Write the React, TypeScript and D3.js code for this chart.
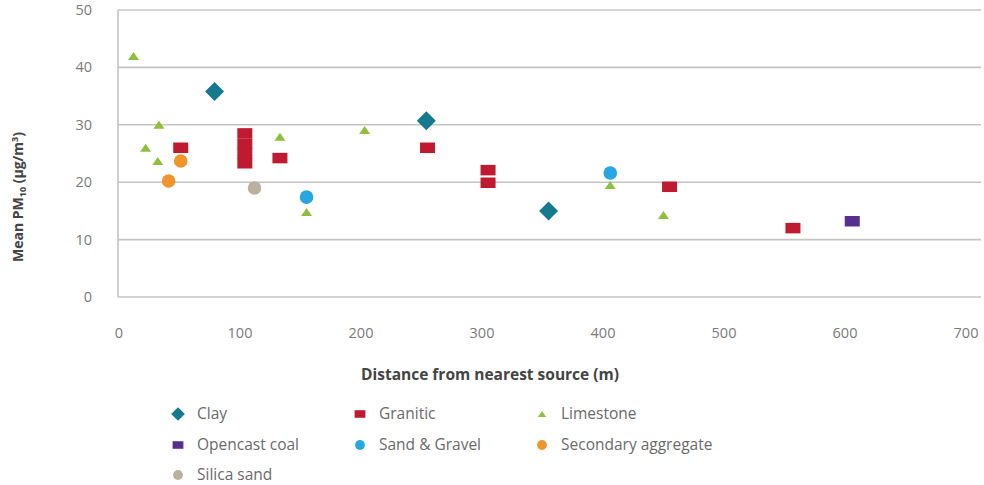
import React from "react";
import * as d3 from "d3";

const xTicks = [0, 100, 200, 300, 400, 500, 600, 700];
const yTicks = [0, 10, 20, 30, 40, 50];

const clayX = [79, 254, 355];
const clayY = [35.8, 30.7, 15];
const graniticX = [51, 104, 104, 104, 104, 133, 255, 305, 305, 455, 557];
const graniticY = [26, 23.3, 25, 26.7, 28.5, 24.2, 26, 22.1, 19.9, 19.2, 12];
const limestoneX = [12, 22, 32, 33, 133, 155, 203, 406, 450];
const limestoneY = [42, 26, 23.7, 30, 27.9, 14.8, 29.1, 19.5, 14.3];
const coalX = [606];
const coalY = [13.2];
const sandX = [155, 406];
const sandY = [17.4, 21.6];
const secondaryX = [41, 51];
const secondaryY = [20.2, 23.7];
const silicaX = [112];
const silicaY = [19];

type Shape = "diamond" | "rect" | "triangle" | "circle";
const seriesNames = ["Clay", "Granitic", "Limestone", "Opencast coal", "Sand & Gravel", "Secondary aggregate", "Silica sand"];
const seriesColors = ["#17798e", "#c01a30", "#8fbf3c", "#56308c", "#27a6e1", "#f0952b", "#b9b09e"];
const seriesShapes: Shape[] = ["diamond", "rect", "triangle", "rect", "circle", "circle", "circle"];
const seriesXs = [clayX, graniticX, limestoneX, coalX, sandX, secondaryX, silicaX];
const seriesYs = [clayY, graniticY, limestoneY, coalY, sandY, secondaryY, silicaY];

const FONT = "'Open Sans', 'Noto Sans', sans-serif";

function Marker({ shape, x, y, color, s }: { shape: Shape; x: number; y: number; color: string; s: number }) {
  if (shape === "diamond") {
    const r = 9.5 * s;
    return <path d={`M${x},${y - r}L${x + r},${y}L${x},${y + r}L${x - r},${y}Z`} fill={color} />;
  }
  if (shape === "rect") {
    const w = 15 * s, h = 10.5 * s;
    return <rect x={x - w / 2} y={y - h / 2} width={w} height={h} fill={color} />;
  }
  if (shape === "triangle") {
    const w = 11 * s, h = 8 * s;
    return <path d={`M${x},${y - h / 2}L${x + w / 2},${y + h / 2}L${x - w / 2},${y + h / 2}Z`} fill={color} />;
  }
  return <circle cx={x} cy={y} r={6.8 * s} fill={color} />;
}

export default function App() {
  const W = 984, H = 485;
  const x = d3.scaleLinear().domain([0, 700]).range([119, 966]);
  const y = d3.scaleLinear().domain([0, 50]).range([297, 10]);
  const gridRight = 981;

  const legendCols = [178, 360, 542];
  const legendRows = [414, 445, 475];

  return (
    <svg width={W} height={H} style={{ position: "absolute", left: 0, top: 0, background: "#fff" }}>
      {yTicks.map((t) => (
        <g key={t}>
          <line x1={118} x2={gridRight} y1={y(t)} y2={y(t)} stroke="#c4c4c4" strokeWidth={1.6} />
          <text x={92} y={y(t)} dy="0.35em" textAnchor="end" fontFamily={FONT} fontSize={14.5} fill="#7a7a7a">
            {t}
          </text>
        </g>
      ))}
      <line x1={118} x2={118} y1={y(50)} y2={y(0)} stroke="#c4c4c4" strokeWidth={1.6} />
      {xTicks.map((t) => (
        <text key={t} x={x(t)} y={333} dy="0.35em" textAnchor="middle" fontFamily={FONT} fontSize={14.5} fill="#7a7a7a">
          {t}
        </text>
      ))}
      <text x={490} y={375} dy="0.35em" textAnchor="middle" fontFamily={FONT} fontSize={15.5} fontWeight="bold" fill="#444">
        Distance from nearest source (m)
      </text>
      <text
        transform={`translate(18,197) rotate(-90)`}
        textAnchor="middle"
        dy="0.35em"
        fontFamily={FONT}
        fontSize={14}
        fontWeight="bold"
        fill="#444"
      >
        Mean PM<tspan fontSize={9} dy="3">10</tspan>
        <tspan dy="-3"> (µg/m</tspan>
        <tspan fontSize={9} dy="-5">3</tspan>
        <tspan dy="5">)</tspan>
      </text>

      {seriesNames.map((name, i) => (
        <g key={name}>
          {seriesXs[i].map((xv, j) => (
            <Marker key={j} shape={seriesShapes[i]} x={x(xv)} y={y(seriesYs[i][j])} color={seriesColors[i]} s={1} />
          ))}
        </g>
      ))}

      {seriesNames.map((name, i) => {
        const cx = legendCols[i % 3];
        const cy = legendRows[Math.floor(i / 3)];
        return (
          <g key={"lg" + name}>
            <Marker shape={seriesShapes[i]} x={cx} y={cy} color={seriesColors[i]} s={seriesShapes[i] === "triangle" ? 0.75 : 0.72} />
            <text x={cx + 19} y={cy} dy="0.35em" fontFamily={FONT} fontSize={15.5} fill="#6a6a6a">
              {name}
            </text>
          </g>
        );
      })}
    </svg>
  );
}
